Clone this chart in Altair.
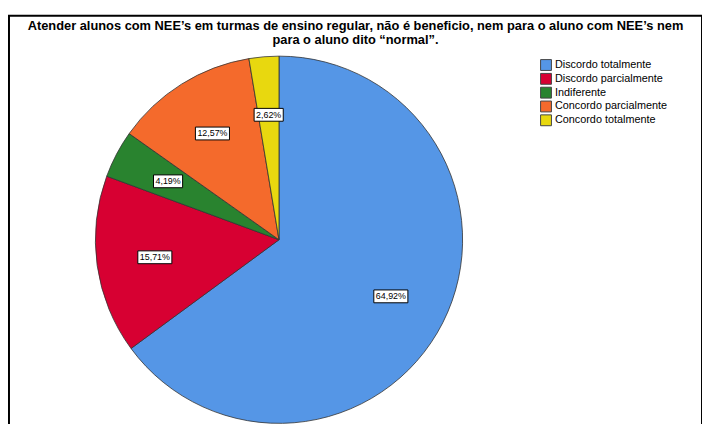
import altair as alt
import pandas as pd

categories = ["Discordo totalmente", "Discordo parcialmente", "Indiferente",
              "Concordo parcialmente", "Concordo totalmente"]
percentages = [64.92, 15.71, 4.19, 12.57, 2.62]
labels = ["64,92%", "15,71%", "4,19%", "12,57%", "2,62%"]
colors = ["#5596E6", "#D70032", "#29832F", "#F46A2C", "#E8D80F"]
title_lines = [
    "Atender alunos com NEE’s em turmas de ensino regular, não é beneficio, nem para o aluno com NEE’s nem",
    "para o aluno dito “normal”.",
]

df = pd.DataFrame({
    "cat": categories,
    "pct": percentages,
    "label": labels,
    "idx": list(range(len(categories))),
})

CX, CY, R, RL = 273.5, 227, 186, 127

base = alt.Chart(df)

pie = base.mark_arc(outerRadius=R, stroke="#333333", strokeWidth=0.8).encode(
    theta=alt.Theta("pct:Q", stack=True),
    order=alt.Order("idx:Q"),
    color=alt.Color("cat:N", scale=alt.Scale(domain=categories, range=colors),
                    sort=categories, legend=alt.Legend(title=None)),
    x=alt.value(CX),
    y=alt.value(CY),
)

pos = base.transform_window(
    cum="sum(pct)", sort=[alt.SortField("idx")]
).transform_joinaggregate(
    total="sum(pct)"
).transform_calculate(
    ang="2*PI*(datum.cum - datum.pct/2)/datum.total",
    w="5*length(datum.label) + 4.5",
).transform_calculate(
    px=f"{CX} + {RL}*sin(datum.ang)",
    py=f"{CY} - {RL}*cos(datum.ang)",
).transform_calculate(
    x1="datum.px - datum.w/2",
    x2="datum.px + datum.w/2",
    y1="datum.py - 6.5",
    y2="datum.py + 6.5",
)

boxes = pos.mark_rect(fill="white", stroke="black", strokeWidth=1).encode(
    x=alt.X("x1:Q", scale=None),
    x2="x2:Q",
    y=alt.Y("y1:Q", scale=None),
    y2="y2:Q",
)

texts = pos.mark_text(fontSize=9, font="Liberation Sans", color="black",
                      align="center", baseline="middle").encode(
    x=alt.X("px:Q", scale=None),
    y=alt.Y("py:Q", scale=None),
    text="label:N",
)

chart = alt.layer(pie, boxes, texts).properties(
    width=702,
    height=420,
    autosize=alt.AutoSizeParams(type="none"),
    padding={"left": 1, "top": 5, "right": 0, "bottom": 0},
    title=alt.TitleParams(
        text=title_lines,
        fontSize=13,
        fontWeight="bold",
        font="Liberation Sans",
        color="black",
        anchor="middle",
        frame="group",
        baseline="alphabetic",
        lineHeight=14,
        offset=-42,
    ),
).configure_view(
    stroke="black", strokeWidth=2
).configure_legend(
    orient="none",
    legendX=538,
    legendY=44,
    padding=0,
    symbolType="square",
    symbolSize=121,
    symbolStrokeColor="#444444",
    symbolStrokeWidth=1,
    labelFontSize=11,
    labelFont="Liberation Sans",
    labelColor="black",
    labelOffset=3,
    rowPadding=-2.2,
)

chart.save("out.html", embed_options={"renderer": "svg", "actions": False})
